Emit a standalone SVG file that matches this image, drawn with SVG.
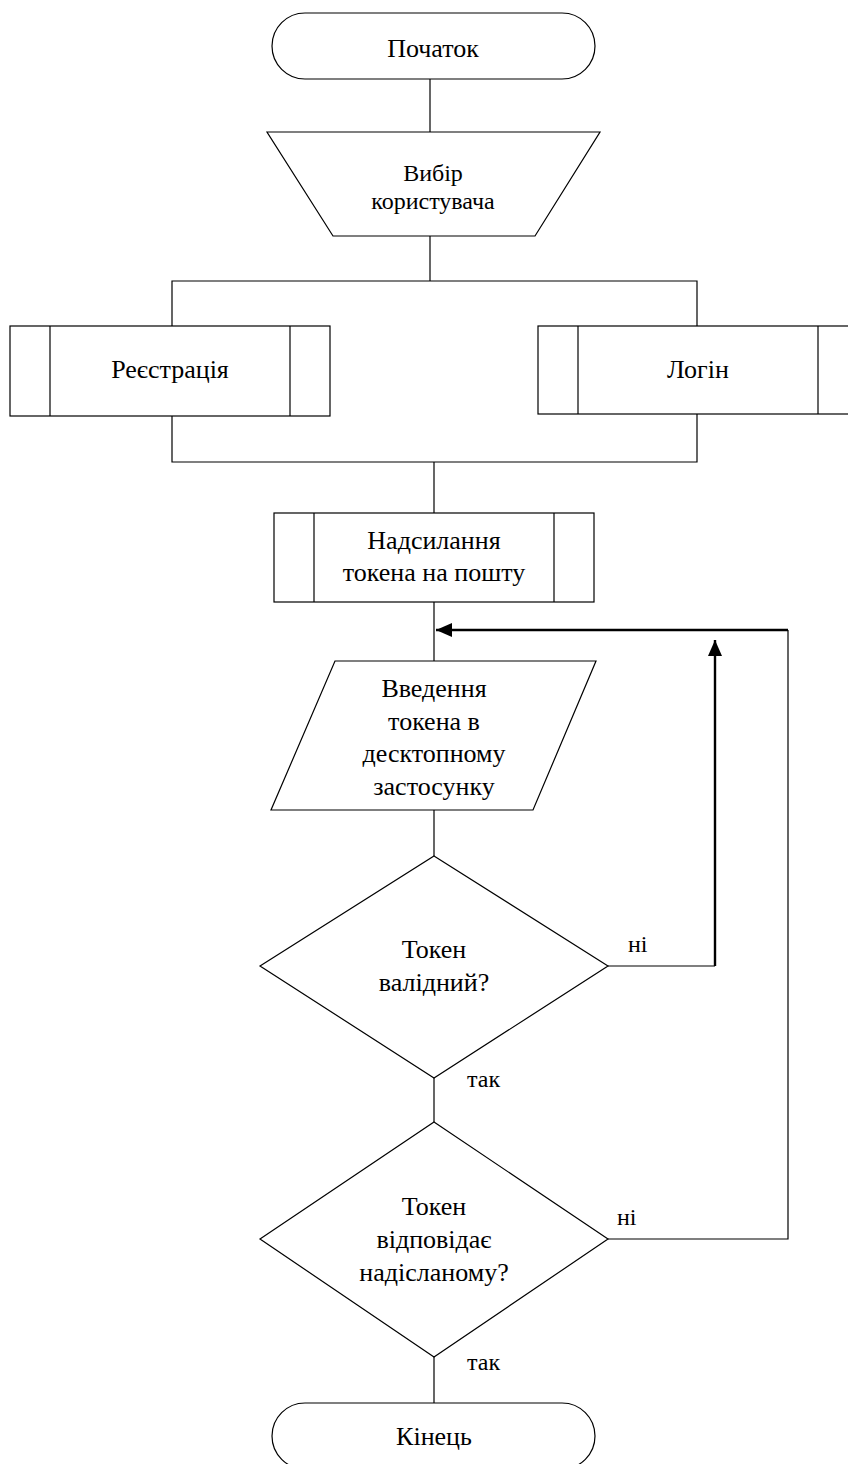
<svg xmlns="http://www.w3.org/2000/svg" width="848" height="1464" viewBox="0 0 848 1464">
  <style>
    .shape { fill: #ffffff; stroke: #000000; stroke-width: 1.2; }
    .line { fill: none; stroke: #000000; stroke-width: 1.2; }
    .bold { fill: none; stroke: #000000; stroke-width: 2.4; }
    text { font-family: "Liberation Serif", "Times New Roman", serif; font-size: 26px; fill: #000000; text-anchor: middle; }
    .small { font-size: 24px; }
    .lbl { font-size: 24px; text-anchor: start; }
  </style>
  <defs>
    <marker id="arrow" viewBox="0 0 16 14" refX="16" refY="7" markerWidth="16" markerHeight="14" markerUnits="userSpaceOnUse" orient="auto">
      <path d="M0,0 L16,7 L0,14 z" fill="#000000"/>
    </marker>
  </defs>

  <g id="connectors">
    <line class="line" x1="430" y1="79" x2="430" y2="132"/>
    <line class="line" x1="430" y1="236" x2="430" y2="281"/>
    <polyline class="line" points="172,326 172,281 697,281 697,326"/>
    <polyline class="line" points="172,416 172,462 697,462 697,414"/>
    <line class="line" x1="434" y1="462" x2="434" y2="513"/>
    <line class="line" x1="434" y1="602" x2="434" y2="661"/>
    <line class="line" x1="434" y1="810" x2="434" y2="856"/>
    <line class="line" x1="434" y1="1078" x2="434" y2="1122"/>
    <line class="line" x1="434" y1="1357" x2="434" y2="1403"/>
    <!-- "no" branch of the validity check loops back above the input -->
    <polyline class="line" points="608,966 715,966"/>
    <line class="bold" x1="715" y1="966" x2="715" y2="640" marker-end="url(#arrow)"/>
    <!-- "no" branch of the match check -->
    <polyline class="line" points="608,1239 788,1239 788,630"/>
    <line class="bold" x1="788" y1="630" x2="436" y2="630" marker-end="url(#arrow)"/>
    <text class="lbl" x="628" y="952">ні</text>
    <text class="lbl" x="467" y="1087">так</text>
    <text class="lbl" x="617" y="1225">ні</text>
    <text class="lbl" x="467" y="1370">так</text>
  </g>

  <g id="start">
    <rect class="shape" x="272" y="13" width="323" height="66" rx="33" ry="33"/>
    <text x="433" y="57">Початок</text>
  </g>

  <g id="user-choice">
    <polygon class="shape" points="267,132 600,132 535,236 333,236"/>
    <text class="small" x="433" y="181">Вибір</text>
    <text class="small" x="433" y="209">користувача</text>
  </g>

  <g id="registration">
    <rect class="shape" x="10" y="326" width="320" height="90"/>
    <line class="line" x1="50" y1="326" x2="50" y2="416"/>
    <line class="line" x1="290" y1="326" x2="290" y2="416"/>
    <text x="170" y="378">Реєстрація</text>
  </g>

  <g id="login">
    <rect class="shape" x="538" y="326" width="320" height="88"/>
    <line class="line" x1="578" y1="326" x2="578" y2="414"/>
    <line class="line" x1="818" y1="326" x2="818" y2="414"/>
    <text x="698" y="378">Логін</text>
  </g>

  <g id="send-token">
    <rect class="shape" x="274" y="513" width="320" height="89"/>
    <line class="line" x1="314" y1="513" x2="314" y2="602"/>
    <line class="line" x1="554" y1="513" x2="554" y2="602"/>
    <text x="434" y="549">Надсилання</text>
    <text x="434" y="581">токена на пошту</text>
  </g>

  <g id="enter-token">
    <polygon class="shape" points="335,661 596,661 533,810 271,810"/>
    <text x="434" y="697">Введення</text>
    <text x="434" y="730">токена в</text>
    <text x="434" y="762">десктопному</text>
    <text x="434" y="795">застосунку</text>
  </g>

  <g id="token-valid">
    <polygon class="shape" points="434,856 608,966 434,1078 260,966"/>
    <text x="434" y="958">Токен</text>
    <text x="434" y="991">валідний?</text>
  </g>

  <g id="token-matches">
    <polygon class="shape" points="434,1122 608,1239 434,1357 260,1239"/>
    <text x="434" y="1215">Токен</text>
    <text x="434" y="1248">відповідає</text>
    <text x="434" y="1281">надісланому?</text>
  </g>

  <g id="end">
    <rect class="shape" x="272" y="1403" width="323" height="66" rx="33" ry="33"/>
    <text x="434" y="1445">Кінець</text>
  </g>
</svg>
